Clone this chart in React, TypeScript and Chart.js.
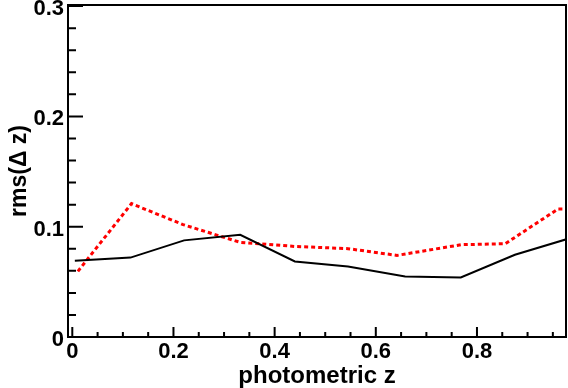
import React, { useEffect, useRef } from 'react';
import { Chart, registerables } from 'chart.js';

Chart.register(...registerables);

// Black solid series
const xBlack = [0.005, 0.115, 0.221, 0.332, 0.44, 0.545, 0.658, 0.768, 0.875, 0.978];
const yBlack = [0.0692, 0.072, 0.0876, 0.0927, 0.0685, 0.064, 0.0549, 0.054, 0.0746, 0.0888];
// Red dotted series
const xRed = [0.011, 0.117, 0.219, 0.332, 0.44, 0.545, 0.642, 0.769, 0.856, 0.96, 0.978];
const yRed = [0.0595, 0.1209, 0.1019, 0.0858, 0.0821, 0.0801, 0.074, 0.0837, 0.0846, 0.116, 0.116];

const xTicks = [0, 0.2, 0.4, 0.6, 0.8];
const yTicks = [0, 0.1, 0.2, 0.3];

const xTitle = 'photometric z';
const yTitle = 'rms(Δ z)';

const fmt = (v: number) => (v === 0 ? '0' : Number(v).toFixed(1));

export default function App() {
  const ref = useRef<HTMLCanvasElement>(null);

  useEffect(() => {
    Chart.defaults.font.family = "'Liberation Sans', Arial, Helvetica, sans-serif";
    const framePlugin = {
      id: 'rootFrame',
      afterDatasetsDraw(chart: any) {
        const { ctx, chartArea, scales } = chart;
        const { left, right, top, bottom } = chartArea;
        const xs = scales.x;
        const ys = scales.y;
        ctx.save();
        ctx.strokeStyle = '#000';
        ctx.lineWidth = 2;
        ctx.strokeRect(left, top, right - left, bottom - top);
        ctx.beginPath();
        for (let k = 0; k < 40; k++) {
          const v = k * 0.05;
          if (v > xs.max) break;
          const px = xs.getPixelForValue(v);
          const len = k % 4 === 0 ? 10 : 5;
          ctx.moveTo(px, bottom);
          ctx.lineTo(px, bottom - len);
        }
        for (let k = 0; k < 40; k++) {
          const v = k * 0.02;
          if (v > ys.max + 1e-9) break;
          const py = ys.getPixelForValue(v);
          const len = k % 5 === 0 ? 15 : 8;
          ctx.moveTo(left, py);
          ctx.lineTo(left + len, py);
        }
        ctx.stroke();
        ctx.restore();
      },
    };

    const chart = new Chart(ref.current as HTMLCanvasElement, {
      type: 'line',
      data: {
        datasets: [
          {
            data: xBlack.map((x, i) => ({ x, y: yBlack[i] })),
            borderColor: '#000000',
            borderWidth: 2,
            pointRadius: 0,
            tension: 0,
          },
          {
            data: xRed.map((x, i) => ({ x, y: yRed[i] })),
            borderColor: '#ff0000',
            borderWidth: 3,
            borderDash: [4, 3],
            pointRadius: 0,
            tension: 0,
          },
        ],
      },
      options: {
        responsive: false,
        animation: false,
        devicePixelRatio: 1,
        layout: { padding: { top: 5, right: 2, left: 0, bottom: 0 } },
        plugins: { legend: { display: false }, tooltip: { enabled: false } },
        scales: {
          x: {
            type: 'linear',
            min: -0.0085,
            max: 0.976,
            grid: { display: false, drawTicks: false },
            border: { display: false },
            afterBuildTicks: (s: any) => {
              s.ticks = xTicks.map((v) => ({ value: v }));
            },
            afterFit: (s: any) => {
              s.height = 51;
              s.paddingLeft = 0;
              s.paddingRight = 0;
            },
            ticks: {
              autoSkip: false,
              maxRotation: 0,
              padding: 2,
              color: '#000',
              font: { size: 22, weight: 'bold' },
              callback: (v: any) => fmt(Number(v)),
            },
            title: {
              display: true,
              text: xTitle,
              color: '#000',
              font: { size: 24, weight: 'bold', lineHeight: 1 },
              padding: 0,
            },
          },
          y: {
            type: 'linear',
            min: 0,
            max: 0.301,
            grid: { display: false, drawTicks: false },
            border: { display: false },
            afterBuildTicks: (s: any) => {
              s.ticks = yTicks.map((v) => ({ value: v }));
            },
            afterFit: (s: any) => {
              s.width = 68;
              s.paddingTop = 0;
              s.paddingBottom = 0;
            },
            ticks: {
              padding: 4,
              labelOffset: 3,
              color: '#000',
              font: { size: 22, weight: 'bold' },
              callback: (v: any) => fmt(Number(v)),
            },
            title: {
              display: true,
              text: yTitle,
              color: '#000',
              font: { size: 23, weight: 'bold', lineHeight: 1 },
              padding: { top: 8.5, bottom: 0 },
            },
          },
        },
      } as any,
      plugins: [framePlugin],
    });
    return () => chart.destroy();
  }, []);

  return (
    <div style={{ position: 'absolute', left: 0, top: 0, width: 568, height: 388 }}>
      <canvas ref={ref} width={568} height={388} style={{ display: 'block', width: 568, height: 388 }} />
    </div>
  );
}
